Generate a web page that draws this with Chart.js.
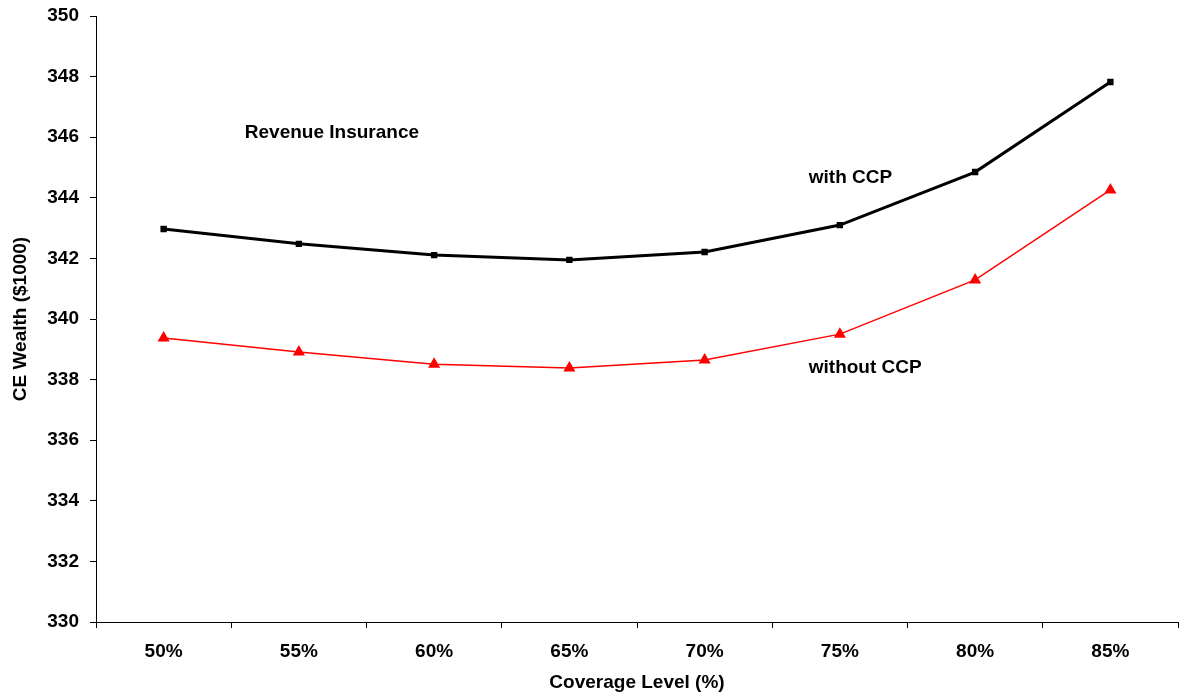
<!DOCTYPE html>
<html>
<head>
<meta charset="utf-8">
<script src="https://cdn.jsdelivr.net/npm/chart.js@4/dist/chart.umd.min.js"></script>
<style>
html,body{margin:0;padding:0;background:#fff;}
#wrap{width:1180px;height:698px;}
</style>
</head>
<body>
<div id="wrap"><canvas id="c" width="1180" height="698"></canvas></div>
<script>
const categories = ["50%", "55%", "60%", "65%", "70%", "75%", "80%", "85%"];
const withCCP = [342.97, 342.48, 342.11, 341.95, 342.21, 343.10, 344.85, 347.82];
const withoutCCP = [339.37, 338.91, 338.51, 338.38, 338.65, 339.50, 341.29, 344.26];
const yMin = 330, yMax = 350, yStep = 2;
const xTitle = "Coverage Level (%)";
const yTitle = "CE Wealth ($1000)";
// annotations: [text, category-index position, value]
const notes = [
  ["Revenue Insurance", 0.6, 346.13],
  ["with CCP", 4.77, 344.65],
  ["without CCP", 4.77, 338.38]
];

const FONT = "'Liberation Sans', Arial, sans-serif";

const notePlugin = {
  id: 'notes',
  afterDatasetsDraw(chart) {
    const ctx = chart.ctx;
    const xs = chart.scales.x, ys = chart.scales.y;
    ctx.save();
    ctx.font = "bold 19px " + FONT;
    ctx.fillStyle = "#000";
    ctx.textAlign = "left";
    ctx.textBaseline = "middle";
    notes.forEach(n => {
      const i0 = Math.floor(n[1]);
      const f = n[1] - i0;
      const p0 = xs.getPixelForValue(i0);
      const p1 = xs.getPixelForValue(Math.min(i0 + 1, categories.length - 1));
      ctx.fillText(n[0], p0 + (p1 - p0) * f, ys.getPixelForValue(n[2]));
    });
    ctx.restore();
  }
};

new Chart(document.getElementById('c'), {
  type: 'line',
  data: {
    labels: categories,
    datasets: [
      {
        label: 'with CCP',
        data: withCCP,
        borderColor: '#000',
        backgroundColor: '#000',
        borderWidth: 3,
        pointStyle: 'rect',
        pointRadius: 4.5,
        pointBorderWidth: 0,
        tension: 0
      },
      {
        label: 'without CCP',
        data: withoutCCP,
        borderColor: '#ff0000',
        backgroundColor: '#ff0000',
        borderWidth: 1.5,
        pointStyle: 'triangle',
        pointRadius: 7,
        pointBorderWidth: 0,
        tension: 0
      }
    ]
  },
  options: {
    responsive: false,
    animation: false,
    devicePixelRatio: 1,
    layout: { autoPadding: false, padding: { left: 0, right: 2, top: 16, bottom: 0 } },
    plugins: {
      legend: { display: false },
      tooltip: { enabled: false }
    },
    scales: {
      x: {
        offset: true,
        grid: { offset: true, drawOnChartArea: false, drawTicks: true, tickLength: 6, color: '#000' },
        border: { color: '#000', width: 1 },
        ticks: { color: '#000', font: { family: FONT, size: 19, weight: 'bold' }, padding: 12, maxRotation: 0 },
        title: { display: true, text: xTitle, color: '#000', font: { family: FONT, size: 19, weight: 'bold' }, padding: { top: 0, bottom: 3.5 } },
        afterFit(s) { s.height = 76; s.paddingLeft = 0; s.paddingRight = 0; }
      },
      y: {
        min: yMin, max: yMax,
        grid: { drawOnChartArea: false, drawTicks: true, tickLength: 6, color: '#000' },
        border: { color: '#000', width: 1 },
        ticks: { stepSize: yStep, color: '#000', font: { family: FONT, size: 19, weight: 'bold' }, padding: 11 },
        title: { display: true, text: yTitle, color: '#000', font: { family: FONT, size: 19, weight: 'bold' }, padding: { top: 9, bottom: 0 } },
        afterFit(s) { s.width = 96; s.paddingTop = 0; s.paddingBottom = 0; }
      }
    }
  },
  plugins: [notePlugin]
});
</script>
</body>
</html>
